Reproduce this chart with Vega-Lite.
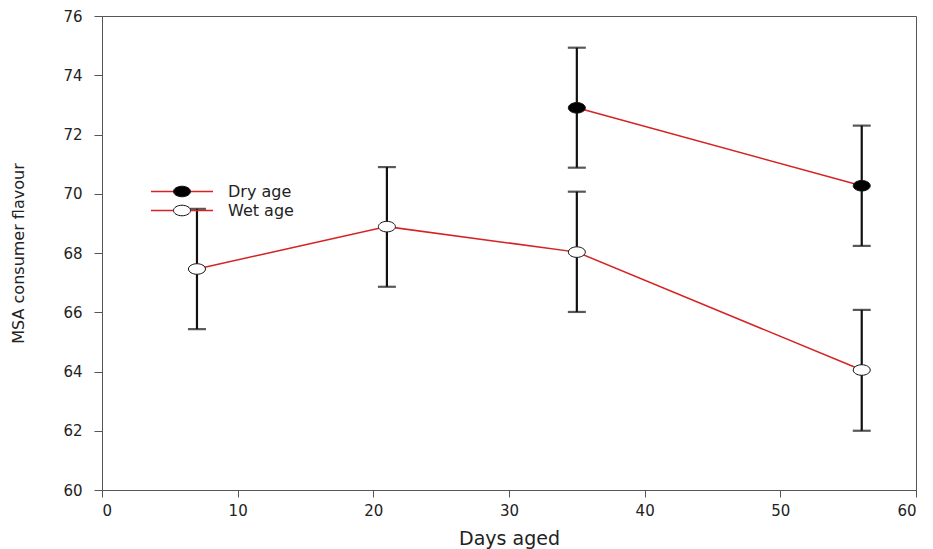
{
  "$schema": "https://vega.github.io/schema/vega-lite/v6.json",
  "width": 814,
  "height": 474,
  "autosize": "none",
  "padding": {"left": 102, "top": 16, "right": 17, "bottom": 59},
  "background": "white",
  "config": {
    "view": {"stroke": "#555", "strokeWidth": 1},
    "font": "DejaVu Sans",
    "axis": {
      "grid": false,
      "domainColor": "#555",
      "tickColor": "#555",
      "labelColor": "#222",
      "titleColor": "#222",
      "labelFont": "DejaVu Sans",
      "titleFont": "DejaVu Sans",
      "labelFontWeight": "normal",
      "titleFontWeight": "normal"
    },
    "legend": {"labelFont": "DejaVu Sans"}
  },
  "data": {
    "values": [
      {"series": "Dry age", "day": 35, "mean": 72.9, "lo": 70.88, "hi": 74.93},
      {"series": "Dry age", "day": 56, "mean": 70.27, "lo": 68.24, "hi": 72.3},
      {"series": "Wet age", "day": 7, "mean": 67.46, "lo": 65.43, "hi": 69.49},
      {"series": "Wet age", "day": 21, "mean": 68.89, "lo": 66.86, "hi": 70.9},
      {"series": "Wet age", "day": 35, "mean": 68.03, "lo": 66.01, "hi": 70.07},
      {"series": "Wet age", "day": 56, "mean": 64.05, "lo": 62.0, "hi": 66.08}
    ]
  },
  "encoding": {
    "x": {
      "field": "day",
      "type": "quantitative",
      "title": "Days aged",
      "scale": {"domain": [0, 60], "nice": false, "zero": false},
      "axis": {
        "values": [0, 10, 20, 30, 40, 50, 60],
        "tickSize": 7,
        "labelPadding": 6,
        "labelFontSize": 15,
        "titleFontSize": 19,
        "titlePadding": 11
      }
    }
  },
  "layer": [
    {
      "mark": {"type": "errorbar", "ticks": true, "size": 18, "thickness": 2.2, "color": "#111"},
      "encoding": {
        "y": {
          "field": "lo",
          "type": "quantitative",
          "title": "MSA consumer flavour",
          "scale": {"domain": [60, 76], "nice": false, "zero": false},
          "axis": {
            "values": [60, 62, 64, 66, 68, 70, 72, 74, 76],
            "tickSize": 8,
            "labelPadding": 12,
            "labelFontSize": 15,
            "titleFontSize": 16,
            "titlePadding": 36
          }
        },
        "y2": {"field": "hi"}
      }
    },
    {
      "mark": {"type": "line", "strokeWidth": 1.5},
      "encoding": {
        "y": {"field": "mean", "type": "quantitative"},
        "stroke": {
          "field": "series",
          "type": "nominal",
          "scale": {"range": ["#d62222", "#d62222"]},
          "legend": {
            "title": null,
            "orient": "none",
            "legendX": 48,
            "legendY": 166,
            "padding": 0,
            "clipHeight": 19,
            "rowPadding": 0,
            "symbolType": "stroke",
            "symbolSize": 3844,
            "symbolStrokeWidth": 1.5,
            "labelExpr": "''"
          }
        }
      }
    },
    {
      "mark": {
        "type": "point",
        "filled": true,
        "opacity": 1,
        "shape": "M -1 0 A 1 0.62 0 1 1 1 0 A 1 0.62 0 1 1 -1 0 Z",
        "size": 289,
        "stroke": "#111",
        "strokeWidth": 1
      },
      "encoding": {
        "y": {"field": "mean", "type": "quantitative"},
        "fill": {
          "field": "series",
          "type": "nominal",
          "scale": {"domain": ["Dry age", "Wet age"], "range": ["#000000", "#ffffff"]},
          "legend": {
            "title": null,
            "orient": "none",
            "legendX": 71,
            "legendY": 166,
            "padding": 0,
            "clipHeight": 19,
            "rowPadding": 0,
            "symbolType": "M -1 0 A 1 0.62 0 1 1 1 0 A 1 0.62 0 1 1 -1 0 Z",
            "symbolSize": 289,
            "symbolStrokeColor": "#111",
            "symbolStrokeWidth": 1,
            "symbolOpacity": 1,
            "labelOffset": 37,
            "labelFontSize": 16,
            "labelColor": "#222"
          }
        }
      }
    }
  ]
}
